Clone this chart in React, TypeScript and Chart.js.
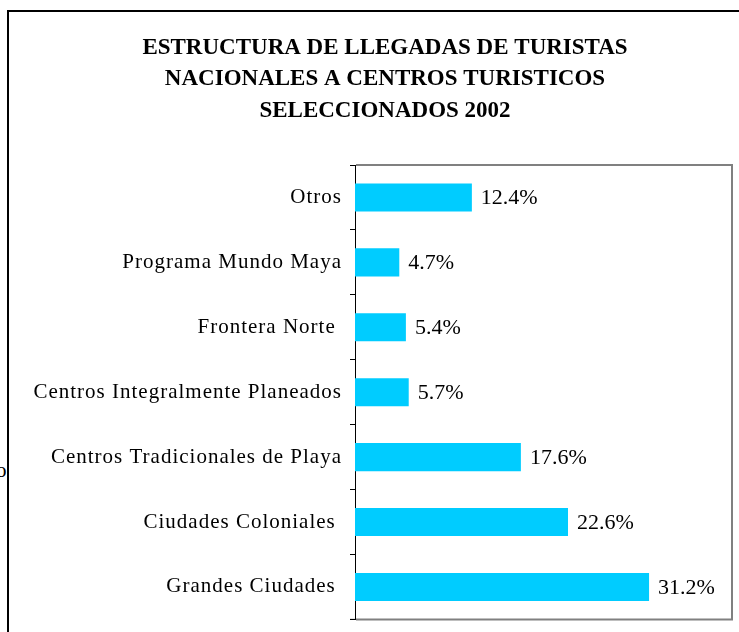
import React, { useEffect, useRef } from "react";
import { Chart, registerables } from "chart.js";

Chart.register(...registerables);

const titleLines = [
  "ESTRUCTURA DE LLEGADAS DE TURISTAS",
  "NACIONALES A CENTROS TURISTICOS",
  "SELECCIONADOS 2002",
];

const categories = [
  "Otros",
  "Programa Mundo Maya",
  "Frontera Norte ",
  "Centros Integralmente Planeados",
  "Centros Tradicionales de Playa",
  "Ciudades Coloniales ",
  "Grandes Ciudades ",
];

const values = [12.4, 4.7, 5.4, 5.7, 17.6, 22.6, 31.2];

const FONT = "'Liberation Serif', 'Times New Roman', Times, serif";

const framePlugin = {
  id: "frame",
  beforeDraw(chart: any) {
    const s = chart.scales.y;
    if (s && !s._spaced) {
      const orig = s.drawLabels.bind(s);
      s.drawLabels = (ca: any) => {
        const ctx = s.ctx;
        ctx.save();
        ctx.letterSpacing = "1px";
        orig(ca);
        ctx.restore();
      };
      s._spaced = true;
    }
  },
  afterDraw(chart: any) {
    const { ctx, chartArea } = chart;
    const { left, right, top, bottom } = chartArea;
    ctx.save();
    ctx.strokeStyle = "#808080";
    ctx.lineWidth = 2;
    ctx.beginPath();
    ctx.moveTo(left + 1, top);
    ctx.lineTo(right, top);
    ctx.lineTo(right, bottom);
    ctx.lineTo(left + 1, bottom);
    ctx.stroke();
    ctx.strokeStyle = "#000";
    ctx.lineWidth = 1;
    ctx.beginPath();
    ctx.moveTo(left - 5, bottom);
    ctx.lineTo(left + 1, bottom);
    ctx.stroke();
    ctx.restore();
  },
};

const valueLabelPlugin = {
  id: "valueLabels",
  afterDatasetsDraw(chart: any) {
    const { ctx } = chart;
    const meta = chart.getDatasetMeta(0);
    ctx.save();
    ctx.fillStyle = "#000";
    ctx.font = `22px ${FONT}`;
    ctx.textAlign = "left";
    ctx.textBaseline = "middle";
    meta.data.forEach((bar: any, i: number) => {
      ctx.fillText(values[i].toFixed(1) + "%", bar.x + 9, bar.y + 1);
    });
    ctx.restore();
  },
};

export default function App() {
  const ref = useRef<HTMLCanvasElement | null>(null);

  useEffect(() => {
    if (!ref.current) return;
    const chart = new Chart(ref.current, {
      type: "bar",
      data: {
        labels: categories,
        datasets: [
          {
            data: values,
            backgroundColor: "#00CCFF",
            borderWidth: 0,
            barPercentage: 0.432,
            categoryPercentage: 1,
          },
        ],
      },
      options: {
        indexAxis: "y",
        responsive: false,
        animation: false,
        devicePixelRatio: 1,
        layout: { padding: { left: 0, right: 0, top: 0, bottom: 6 } },
        plugins: {
          legend: { display: false },
          tooltip: { enabled: false },
          title: {
            display: true,
            text: titleLines,
            color: "#000",
            font: { family: FONT, size: 23, weight: "bold", lineHeight: 31.5 / 23 },
            padding: { top: 20, bottom: 38.5 },
          },
        },
        scales: {
          x: { display: false, min: 0, max: 40 },
          y: {
            grid: {
              display: true,
              drawOnChartArea: false,
              drawTicks: true,
              tickLength: 5,
              color: "#000",
              offset: true,
            },
            border: { display: true, color: "#000", width: 1 },
            ticks: { color: "#000", font: { family: FONT, size: 21 }, padding: 8 },
            afterFit(scale: any) {
              scale.width = 346;
            },
          },
          ySpacer: {
            type: "linear",
            position: "right",
            display: true,
            grid: { display: false },
            border: { display: false },
            ticks: { display: false },
            afterFit(scale: any) {
              scale.width = 29;
            },
          },
        },
      } as any,
      plugins: [framePlugin, valueLabelPlugin],
    });
    return () => chart.destroy();
  }, []);

  return (
    <div
      style={{
        position: "fixed",
        left: 0,
        top: 0,
        width: 739,
        height: 632,
        overflow: "hidden",
        background: "#fff",
      }}
    >
      <span
        style={{
          position: "absolute",
          left: -4,
          top: 458,
          fontFamily: FONT,
          fontSize: 21,
          color: "#000",
        }}
      >
        o
      </span>
      <div
        style={{
          position: "absolute",
          left: 7,
          top: 10,
          width: 752,
          height: 640,
          border: "2px solid #000",
          background: "#fff",
        }}
      >
        <canvas ref={ref} width={752} height={628} style={{ display: "block" }} />
      </div>
    </div>
  );
}
